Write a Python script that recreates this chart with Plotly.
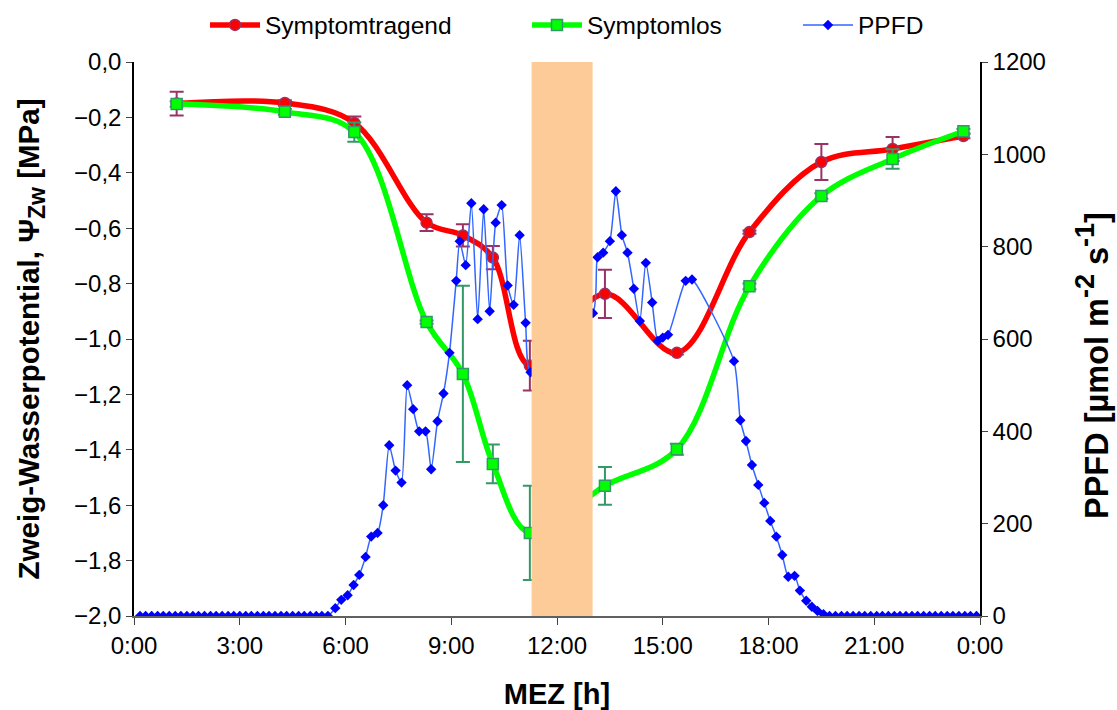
import plotly.graph_objects as go

# ---- Water potential measurements (hours, MPa) ----
mess_zeit = [1.21, 4.28, 6.25, 8.30, 9.33, 10.18, 11.23, 13.36, 15.40, 17.46, 19.50, 21.52, 23.53]
tragend = [-0.150, -0.148, -0.220, -0.580, -0.626, -0.706, -1.096, -0.837, -1.050, -0.614, -0.361, -0.314, -0.267]
tragend_err = [0.043, 0.010, 0.023, 0.030, 0.040, 0.042, 0.090, 0.087, 0.006, 0.006, 0.065, 0.043, 0.008]
los = [-0.152, -0.180, -0.253, -0.939, -1.126, -1.451, -1.700, -1.530, -1.398, -0.810, -0.484, -0.350, -0.250]
los_err = [0.010, 0.010, 0.035, 0.006, 0.318, 0.070, 0.170, 0.068, 0.020, 0.010, 0.010, 0.035, 0.008]

# ---- PPFD (hours, µmol m-2 s-1) ----
ppfd_zeit = [0.17, 0.33, 0.5, 0.67, 0.83, 1.0, 1.17, 1.33, 1.5, 1.67, 1.83, 2.0, 2.17, 2.33, 2.5, 2.67,
             2.83, 3.0, 3.17, 3.33, 3.5, 3.67, 3.83, 4.0, 4.17, 4.33, 4.5, 4.67, 4.83, 5.0, 5.17, 5.33, 5.5,
             5.71, 5.88, 6.06, 6.23, 6.39, 6.57, 6.73, 6.91, 7.07, 7.24, 7.42, 7.59, 7.75, 7.92, 8.09, 8.27,
             8.43, 8.61, 8.78, 8.95, 9.14, 9.24, 9.41, 9.57, 9.75, 9.92, 10.09, 10.26, 10.43, 10.6, 10.77,
             10.94, 11.11, 11.25, 13.02, 13.15, 13.31, 13.5, 13.67, 13.84, 14.0, 14.18, 14.35, 14.52, 14.7,
             14.86, 15.0, 15.15, 15.65, 15.83, 17.02, 17.2, 17.36, 17.53, 17.71, 17.88, 18.05, 18.22, 18.39,
             18.56, 18.74, 18.89, 19.07, 19.23, 19.39, 19.56, 19.73, 19.9, 20.07, 20.23, 20.4, 20.57, 20.73,
             20.9, 21.07, 21.23, 21.4, 21.57, 21.73, 21.9, 22.07, 22.23, 22.4, 22.57, 22.73, 22.9, 23.07,
             23.23, 23.4, 23.57, 23.73, 23.9]
ppfd = [0, 0, 0, 0, 0, 0, 0, 0, 0, 0, 0, 0, 0, 0, 0, 0,
        0, 0, 0, 0, 0, 0, 0, 0, 0, 0, 0, 0, 0, 0, 0, 0, 0,
        17, 35, 45, 67, 89, 128, 172, 180, 240, 370, 315, 289, 500, 448, 400, 400,
        318, 422, 482, 570, 726, 812, 760, 894, 643, 881, 660, 852, 890, 716, 674,
        825, 635, 528, 656, 777, 787, 812, 920, 825, 787, 709, 639, 765, 679,
        596, 603, 609, 726, 729, 552, 424, 379, 327, 284, 245, 206, 172, 132,
        85, 87, 55, 33, 20, 11, 4, 0, 0, 0, 0, 0, 0, 0,
        0, 0, 0, 0, 0, 0, 0, 0, 0, 0, 0, 0, 0, 0,
        0, 0, 0, 0, 0]

# ---- axis ticks ----
x_tickvals = [0, 3, 6, 9, 12, 15, 18, 21, 24]
x_ticktext = ["0:00", "3:00", "6:00", "9:00", "12:00", "15:00", "18:00", "21:00", "0:00"]
schatten = [11.28, 13.01]

FONT = "Liberation Sans, Arial, sans-serif"

fig = go.Figure()
fig.add_trace(go.Scatter(
    x=mess_zeit, y=tragend, name="Symptomtragend", mode="lines+markers",
    line=dict(color="#FF0000", width=5.5, shape="spline", smoothing=1),
    marker=dict(symbol="circle", size=11, color="#FF0000", line=dict(color="#993366", width=1.5)),
    error_y=dict(type="data", array=tragend_err, color="#993366", thickness=2, width=7),
    legend="legend"))
fig.add_trace(go.Scatter(
    x=mess_zeit, y=los, name="Symptomlos", mode="lines+markers",
    line=dict(color="#00FF00", width=5.5, shape="spline", smoothing=1),
    marker=dict(symbol="square", size=11, color="#00FF00", line=dict(color="#339966", width=1.5)),
    error_y=dict(type="data", array=los_err, color="#339966", thickness=2, width=7),
    legend="legend2"))
fig.add_trace(go.Scatter(
    x=ppfd_zeit, y=ppfd, name="PPFD", mode="lines+markers", yaxis="y2",
    line=dict(color="#3366FF", width=1.5, shape="spline", smoothing=0.6),
    marker=dict(symbol="diamond", size=8, color="#0000FF"),
    legend="legend3"))

fig.add_shape(type="rect", xref="x", yref="paper", x0=schatten[0], x1=schatten[1], y0=0, y1=1,
              fillcolor="#FCCB97", line=dict(width=0), layer="above")

# right axis title as annotation (to match its position in the reference)
fig.add_annotation(
    text="PPFD [µmol m<sup><span style='font-size:27px'>-2</span></sup> "
         "s<sup><span style='font-size:27px'>-1</span></sup>]",
    xref="paper", yref="paper", x=(1092 - 134) / 846, y=(616 - 366) / 554,
    xanchor="center", yanchor="middle", textangle=-90, showarrow=False,
    font=dict(family=FONT, size=32.5, weight="bold", color="black"))

leg_common = dict(orientation="h", xref="container", yref="container", yanchor="middle",
                  y=1 - 25 / 710, font=dict(family=FONT, size=24.5, color="black"),
                  bgcolor="rgba(0,0,0,0)", itemwidth=50)
fig.update_layout(
    width=1117, height=710,
    margin=dict(l=134, r=137, t=62, b=94, autoexpand=False),
    plot_bgcolor="white", paper_bgcolor="white",
    font=dict(family=FONT, size=24, color="black"),
    separators=",.",
    showlegend=True,
    legend=dict(x=205 / 1117, **leg_common),
    legend2=dict(x=527 / 1117, **leg_common),
    legend3=dict(x=798 / 1117, **leg_common),
    xaxis=dict(range=[0, 24], tickvals=x_tickvals, ticktext=x_ticktext, showgrid=False,
               zeroline=False, showline=True, linecolor="#606060", linewidth=1.5,
               ticks="outside", ticklen=7, tickcolor="#404040",
               title=dict(text="MEZ [h]", font=dict(size=29, weight="bold"), standoff=27)),
    yaxis=dict(range=[-2.0, 0.0], dtick=0.2, tickformat=".1f", showgrid=False, zeroline=False,
               showline=True, linecolor="black", linewidth=1.5, ticks="outside", ticklen=6,
               title=dict(text="Zweig-Wasserpotential, Ψ<sub><span style='font-size:23px'>Zw</span></sub> [MPa]",
                          font=dict(size=29.5, weight="bold"), standoff=26)),
    yaxis2=dict(range=[0, 1200], dtick=200, tickformat="d", overlaying="y", side="right",
                showgrid=False, zeroline=False, showline=True, linecolor="black", linewidth=1.5,
                ticks="outside", ticklen=6),
)

fig.write_html("out.html", post_script="document.body.style.margin='0';",
               config={"displayModeBar": False})
